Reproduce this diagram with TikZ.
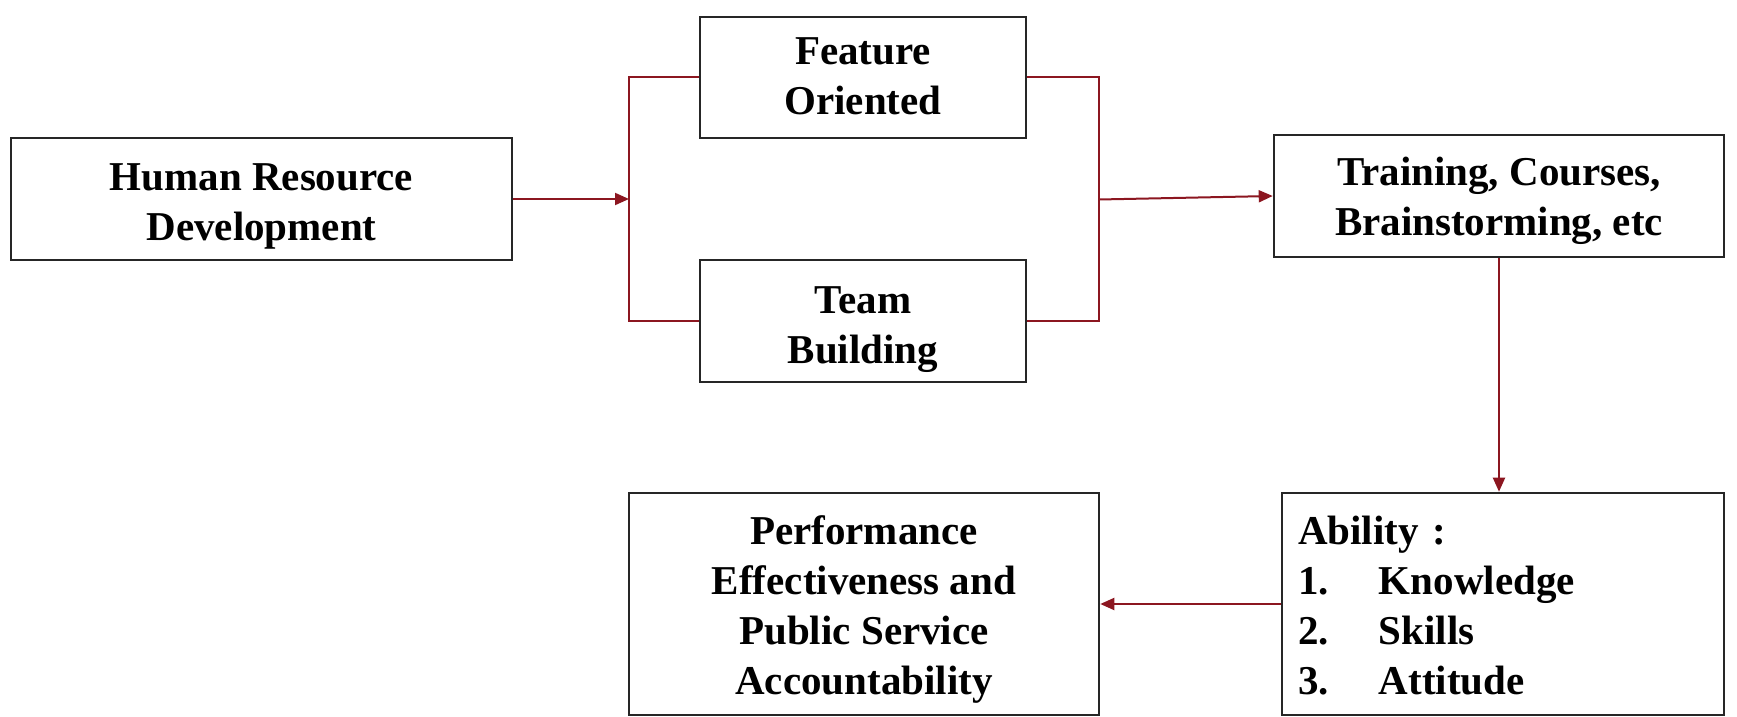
\documentclass[tikz,border=0pt]{standalone}
\usepackage{fontspec}
\setmainfont{Liberation Serif}
\usetikzlibrary{arrows.meta}
\definecolor{linkred}{RGB}{140,22,32}
\newcommand{\boxtext}[3][c]{\raisebox{-#2}[\height][\depth]{\begin{tabular}{@{}#1@{}}#3\end{tabular}}}
\begin{document}
\begin{tikzpicture}[x=0.5pt,y=-0.5pt,
  box/.style={draw=black!85,line width=1.3pt,rectangle,inner sep=0pt,
    font=\fontsize{20.5}{25}\selectfont\bfseries,align=center},
  conn/.style={draw=linkred,line width=1pt},
  arr/.style={conn,-{Triangle[length=7pt,width=6pt]}}]
\useasboundingbox (0,0) rectangle (1737,717);
\node[box,minimum width=250.5pt,minimum height=61pt] (hrd) at (261.5,199) {\boxtext{3.5pt}{Human Resource\\Development}};
\node[box,minimum width=163pt,minimum height=60.5pt] (feat) at (863,77.5) {\boxtext{1pt}{Feature\\Oriented}};
\node[box,minimum width=163pt,minimum height=61pt] (team) at (863,321) {\boxtext{4pt}{Team\\Building}};
\node[box,minimum width=225pt,minimum height=61pt] (train) at (1499,196) {\boxtext{2.2pt}{Training, Courses,\\Brainstorming, etc}};
\node[box,minimum width=221pt,minimum height=111pt,align=left,text width=205pt] (abil) at (1503,604)
  {\boxtext[l]{2.7pt}{Ability :\\\makebox[40.5pt][l]{1.}Knowledge\\\makebox[40.5pt][l]{2.}Skills\\\makebox[40.5pt][l]{3.}Attitude}};
\node[box,minimum width=235pt,minimum height=111pt] (perf) at (864,604) {\boxtext{2.7pt}{Performance\\Effectiveness and\\Public Service\\Accountability}};
\coordinate (jl) at (629,199);
\coordinate (jr) at (1099,199.5);
\draw[conn] (feat.west) -| (jl) |- (team.west);
\draw[arr] (hrd.east) -- (jl);
\draw[conn] (feat.east) -| (jr) |- (team.east);
\draw[arr] (jr) -- (train.west);
\draw[arr] (train.south) -- (train.south |- abil.north);
\draw[arr] (abil.west) -- (perf.east);
\end{tikzpicture}
\end{document}
